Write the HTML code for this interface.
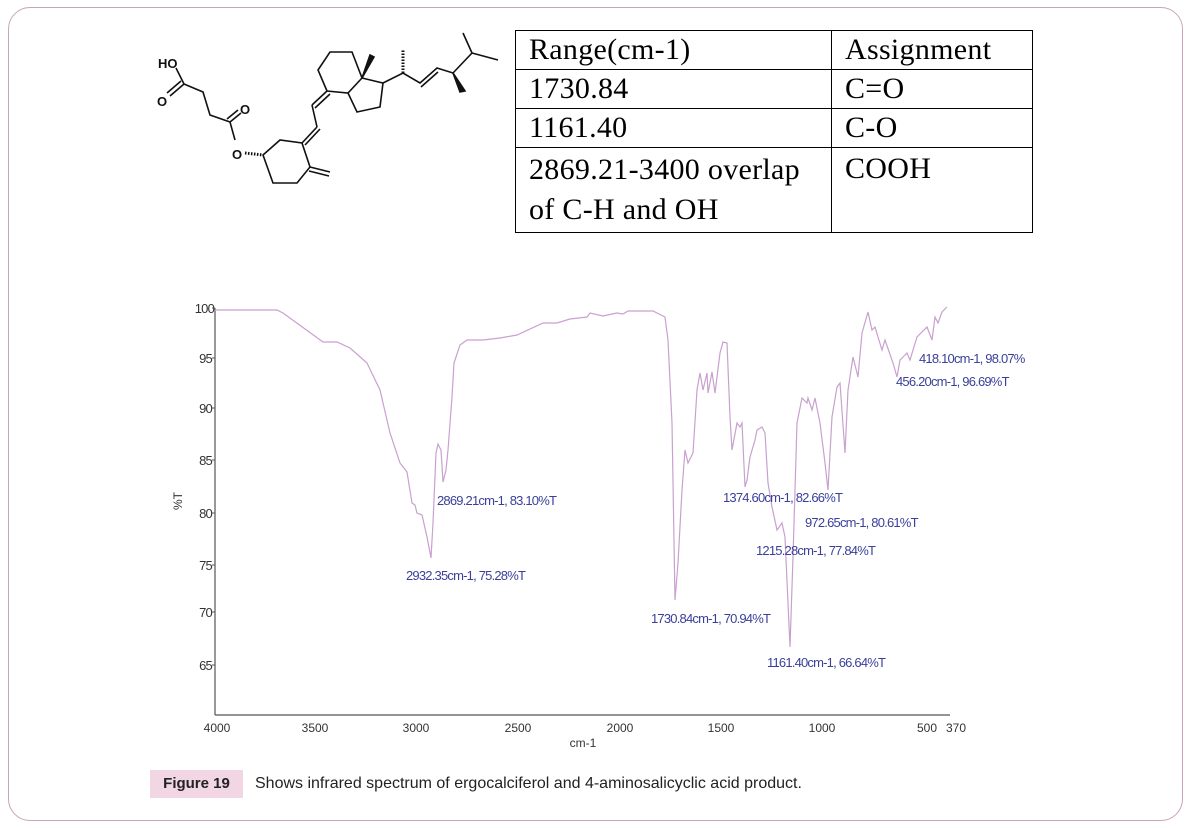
<!DOCTYPE html>
<html><head><meta charset="utf-8"><style>
body{margin:0;width:1191px;height:828px;background:#fff;position:relative;overflow:hidden;font-family:"Liberation Sans",sans-serif}
.frame{position:absolute;left:8px;top:7px;width:1173px;height:812px;border:1.5px solid #c9a3bb;border-radius:22px}
table{position:absolute;left:515px;top:30px;border-collapse:collapse;font-family:"Liberation Serif",serif;font-size:30px;letter-spacing:0.3px;color:#000}
td{border:1.5px solid #000;padding:0 0 0 13px;vertical-align:top;line-height:38px}
.cap{position:absolute;left:150px;top:770px;width:93px;height:28px;background:#f3d6e4;font-size:15px;font-weight:bold;line-height:28px;text-align:center;color:#222}
.capt{position:absolute;left:255px;top:770px;font-size:16px;line-height:28px;color:#222}
</style></head><body>
<div class="frame"></div>
<svg width="1191" height="828" style="position:absolute;left:0;top:0" font-family="Liberation Sans, sans-serif">
<g stroke="#111" stroke-width="1.6" fill="none">
<polyline points="176,68 184,84 203,92 210,115 230,122 235,140"/>
<line x1="184" y1="84" x2="170" y2="96"/><line x1="181" y1="81" x2="167" y2="93"/>
<line x1="230" y1="122" x2="241" y2="113"/><line x1="227" y1="119" x2="238" y2="110"/>
<line x1="245" y1="153" x2="263" y2="155" stroke-dasharray="1.5,1.5" stroke-width="3"/>
<polygon points="263,155 280,140 302,143 310,167 297,183 273,183"/>
<line x1="310" y1="167" x2="330" y2="172"/><line x1="309" y1="171" x2="329" y2="176"/>
<line x1="302" y1="143" x2="317" y2="127"/><line x1="305" y1="145" x2="320" y2="129"/>
<line x1="317" y1="127" x2="312" y2="105"/>
<line x1="312" y1="105" x2="327" y2="91"/><line x1="315" y1="108" x2="330" y2="94"/>
<polygon points="327,91 318,70 330,52 352,52 362,78 348,93"/>
<polyline points="362,78 383,83 380,107 357,112 348,93"/>
<polygon points="362,78 370,55 374,57" fill="#111"/>
<polyline points="383,83 403,73 420,83 437,68 453,73 472,53 463,33"/>
<line x1="421" y1="87" x2="438" y2="72"/>
<line x1="472" y1="53" x2="498" y2="60"/>
<line x1="403" y1="73" x2="403" y2="50" stroke-dasharray="1.5,1.5" stroke-width="3"/>
<polygon points="453,73 460,92 465,91" fill="#111"/>
</g>
<g font-size="13" font-weight="bold" fill="#111"><text x="158" y="68">HO</text><text x="157" y="106">O</text><text x="240" y="114">O</text><text x="232" y="159">O</text></g>
<g stroke="#555" stroke-width="1.2"><line x1="215" y1="308" x2="215" y2="715"/><line x1="215" y1="715" x2="950" y2="715"/></g>
<g font-size="13" fill="#333" text-anchor="end" style="letter-spacing:-0.8px">
<text x="214" y="313">100</text><text x="212" y="363">95</text><text x="212" y="413">90</text><text x="212" y="465">85</text><text x="212" y="518">80</text><text x="212" y="570">75</text><text x="212" y="617">70</text><text x="212" y="670">65</text></g>
<g stroke="#555"><line x1="212" y1="308" x2="215" y2="308"/><line x1="212" y1="358" x2="215" y2="358"/><line x1="212" y1="408" x2="215" y2="408"/><line x1="212" y1="460" x2="215" y2="460"/><line x1="212" y1="513" x2="215" y2="513"/><line x1="212" y1="565" x2="215" y2="565"/><line x1="212" y1="612" x2="215" y2="612"/><line x1="212" y1="665" x2="215" y2="665"/></g>
<text x="182" y="510" font-size="12" fill="#333" transform="rotate(-90 182 510)">%T</text>
<g font-size="12" fill="#333" text-anchor="middle"><text x="217" y="732">4000</text><text x="315" y="732">3500</text><text x="416" y="732">3000</text><text x="518" y="732">2500</text><text x="620" y="732">2000</text><text x="721" y="732">1500</text><text x="822" y="732">1000</text><text x="927" y="732">500</text><text x="956" y="732">370</text><text x="583" y="747">cm-1</text></g>
<polyline fill="none" stroke="#c9a0cf" stroke-width="1.2" points="215,310 277,310 283,313 323,342 337,342 350,348 367,363 380,390 390,433 400,463 407,472 412,503 415,505 417,513 422,515 427,537 431,558 433,523 436,453 438,444 441,450 443,482 446,470 448,450 452,397 454,363 460,345 467,340 483,340 500,338 517,335 543,323 557,323 570,319 587,317 590,313 603,316 617,313 623,314 628,311 653,311 665,317 668,340 672,423 675,600 678,563 682,490 685,450 688,463 693,453 697,390 700,373 703,390 707,373 708,393 712,372 715,393 720,353 723,342 727,343 730,417 732,450 737,423 740,427 742,423 745,487 747,480 750,457 755,440 757,430 762,427 765,433 768,483 772,507 777,530 782,523 785,537 790,647 793,557 797,423 802,398 807,403 808,398 812,410 815,398 820,423 825,463 828,490 832,417 837,387 840,383 845,453 848,390 853,357 858,377 862,333 868,312 872,330 875,327 878,337 882,350 885,340 893,363 897,377 900,360 907,353 910,360 917,337 927,327 932,340 935,317 938,323 942,312 947,307"/>
<g font-size="13" fill="#3a3f9a" style="letter-spacing:-0.8px">
<text x="437" y="505">2869.21cm-1, 83.10%T</text>
<text x="406" y="580">2932.35cm-1, 75.28%T</text>
<text x="651" y="623">1730.84cm-1, 70.94%T</text>
<text x="723" y="502">1374.60cm-1, 82.66%T</text>
<text x="805" y="527">972.65cm-1, 80.61%T</text>
<text x="756" y="555">1215.28cm-1, 77.84%T</text>
<text x="767" y="667">1161.40cm-1, 66.64%T</text>
<text x="919" y="363">418.10cm-1, 98.07%</text>
<text x="896" y="386">456.20cm-1, 96.69%T</text></g>
</svg>
<table>
<tr><td style="width:302px;height:38px">Range(cm-1)</td><td style="width:187px">Assignment</td></tr>
<tr><td style="height:38px">1730.84</td><td>C=O</td></tr>
<tr><td style="height:38px">1161.40</td><td>C-O</td></tr>
<tr><td style="height:82px;line-height:40px;padding-top:2px">2869.21-3400 overlap<br>of C-H and OH</td><td style="padding-top:2px">COOH</td></tr>
</table>
<div class="cap">Figure 19</div>
<div class="capt">Shows infrared spectrum of ergocalciferol and 4-aminosalicyclic acid product.</div>
</body></html>
